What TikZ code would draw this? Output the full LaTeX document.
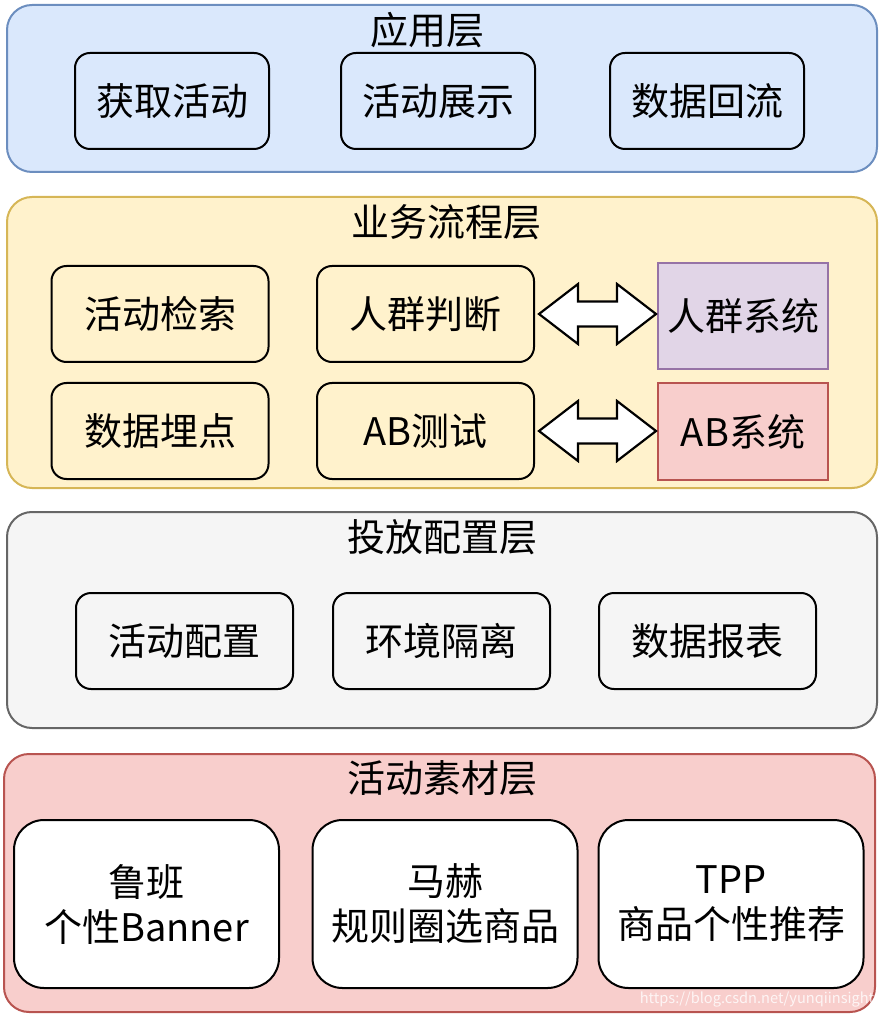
\documentclass[tikz,border=0pt]{standalone}
\usepackage{fontspec}
\setmainfont{Noto Sans CJK SC}
\usetikzlibrary{calc}
\definecolor{LBlue}{HTML}{DAE8FC}
\definecolor{DBlue}{HTML}{6C8EBF}
\definecolor{LYellow}{HTML}{FFF2CC}
\definecolor{DYellow}{HTML}{D6B656}
\definecolor{LGray}{HTML}{F5F5F5}
\definecolor{DGray}{HTML}{666666}
\definecolor{LRed}{HTML}{F8CECC}
\definecolor{DRed}{HTML}{B85450}
\definecolor{LPurple}{HTML}{E1D5E7}
\definecolor{DPurple}{HTML}{9673A6}
\tikzset{
    layer/.style={line width=1pt, rounded corners=12.5pt},
    title/.style={font=\fontsize{19}{23}\selectfont},
    item/.style={draw=black, line width=1pt, rounded corners=7.5pt,
        minimum width=97pt, minimum height=48pt, font=\fontsize{19}{23}\selectfont},
    wide/.style={item, minimum width=108.5pt},
    sysbox/.style={item, rounded corners=0pt, minimum width=85pt},
    matbox/.style={item, fill=white, rounded corners=15pt, minimum width=132.5pt,
        minimum height=84pt, align=center, font=\fontsize{19}{22.5}\selectfont},
    dblarrow/.style={draw=black, line width=1.1pt, fill=white, line join=miter},
}
\NewDocumentCommand{\DoubleArrow}{mm}{
    \draw[dblarrow] ($(#1.east)+(4,0)$) -- ++(39,-30) -- ++(0,17.5)
        -- ($(#2.west |- #1.east)+(-40,-12.5)$) -- ++(0,-17.5) -- ++(39,30)
        -- ++(-39,30) -- ++(0,-17.5) -- ($(#1.east)+(43,12.5)$) -- ++(0,17.5) -- cycle;
}

\begin{document}
\begin{tikzpicture}[x=0.5pt, y=-0.5pt]
\useasboundingbox (0,0) rectangle (885,1020);

% application layer
\draw[layer, draw=DBlue, fill=LBlue] (7,5) rectangle (877,172);
\node[title] (app-title) at (427,30) {应用层};
\node[item, fill=LBlue] (app-fetch) at (172,101) {获取活动};
\node[item, fill=LBlue] (app-show) at (438,101) {活动展示};
\node[item, fill=LBlue] (app-back) at (707,101) {数据回流};

% business flow layer
\draw[layer, draw=DYellow, fill=LYellow] (7,197) rectangle (877,488);
\node[title] (flow-title) at (446,222) {业务流程层};
\node[wide, fill=LYellow] (flow-search) at (160,314) {活动检索};
\node[wide, fill=LYellow] (flow-crowd) at (425.5,314) {人群判断};
\node[wide, fill=LYellow] (flow-track) at (160,431) {数据埋点};
\node[wide, fill=LYellow] (flow-ab) at (425.5,431) {AB测试};
\node[sysbox, draw=DPurple, fill=LPurple, minimum height=53pt] (sys-crowd) at (743,316) {人群系统};
\node[sysbox, draw=DRed, fill=LRed, minimum height=48.5pt] (sys-ab) at (743,431.5) {AB系统};
\DoubleArrow{flow-crowd}{sys-crowd}
\DoubleArrow{flow-ab}{sys-ab}

% delivery config layer
\draw[layer, draw=DGray, fill=LGray] (7,512) rectangle (877,728);
\node[title] (conf-title) at (442,537) {投放配置层};
\node[wide, fill=LGray] (conf-act) at (184.5,641) {活动配置};
\node[wide, fill=LGray] (conf-env) at (441.5,641) {环境隔离};
\node[wide, fill=LGray] (conf-report) at (707.5,641) {数据报表};

% material layer
\draw[layer, draw=DRed, fill=LRed] (4,754) rectangle (875,1012);
\node[title] (mat-title) at (442,778) {活动素材层};
\node[matbox] (mat-luban) at (146.5,904) {鲁班\\个性Banner};
\node[matbox] (mat-mahe) at (445,904) {马赫\\规则圈选商品};
\node[matbox] (mat-tpp) at (731,904) {TPP\\商品个性推荐};

\node[text=white, text opacity=0.8, font=\fontsize{7.3}{9}\selectfont] (mark) at (757,1000) {https://blog.csdn.net/yunqiinsight};
\end{tikzpicture}
\end{document}
